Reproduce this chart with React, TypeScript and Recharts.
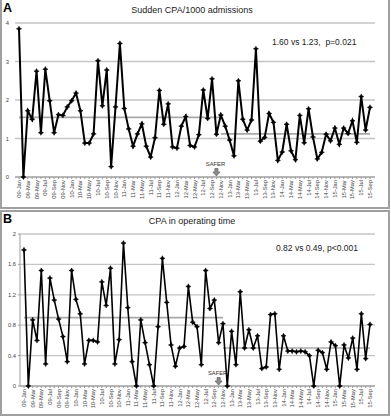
import React from "react";
import {
  LineChart,
  Line,
  XAxis,
  YAxis,
  CartesianGrid,
  ReferenceLine,
  ReferenceDot,
} from "recharts";

const YEARS = ["09", "10", "11", "12", "13", "14", "15"];
const MONTHS = ["Jan", "Feb", "Mar", "Apr", "May", "Jun", "Jul", "Aug", "Sep", "Oct", "Nov", "Dec"];
// 09-Jan .. 15-Sep, one point per month
const PERIODS = YEARS.flatMap((y) => MONTHS.map((m) => `${y}-${m}`)).slice(0, 81);

const CPA_PER_1000 = [
  3.85, 0, 1.72, 1.5, 2.75, 1.15, 2.8, 1.98, 1.15, 1.62,
  1.6, 1.82, 1.98, 2.18, 1.72, 0.88, 0.88, 1.12, 3.02, 1.85,
  2.78, 0.27, 1.82, 3.47, 1.78, 1.25, 0.8, 1.12, 1.38, 0.8,
  0.52, 1.02, 2.25, 1.37, 1.9, 0.78, 0.75, 1.32, 1.57, 0.82,
  0.78, 1.1, 2.26, 1.52, 2.55, 1.11, 1.61, 1.32, 0.96, 0.55,
  2.5, 1.5, 1.22, 1.48, 3.33, 0.93, 1.03, 1.65, 1.42, 0.43,
  0.65, 1.37, 0.68, 0.45, 1.6, 0.89, 1.77, 1.04, 0.47, 0.64,
  1.11, 0.94, 1.27, 0.85, 1.27, 1.13, 1.46, 0.9, 2.09, 1.22, 1.81,
];

const CPA_OPERATING = [
  1.79, 0, 0.87, 0.6, 1.52, 0.29, 1.42, 1.13, 0.88, 0.65,
  0.32, 1.52, 1.14, 0.95, 0.29, 0.6, 0.6, 0.58, 1.37, 1.06,
  1.55, 0.29, 0.61, 1.88, 1.03, 0.32, 0, 0.87, 0.57, 0.28,
  0, 0.78, 1.68, 1.1, 0.54, 0.26, 0.5, 0.52, 1.31, 0.84,
  0.78, 0.28, 1.52, 1.02, 1.13, 0.57, 0.82, 0, 0.72, 0.28,
  1.24, 0.5, 0.74, 0.5, 0.66, 0.23, 0.25, 0.94, 0.95, 0.22,
  0.66, 0.46, 0.46, 0.45, 0.46, 0.45, 0.4, 0, 0.47, 0.44,
  0.22, 0.58, 0.53, 0, 0.54, 0.37, 0.63, 0.22, 0.95, 0.36, 0.81,
];

const TICKS_A = [0, 1, 2, 3, 4];
const TICKS_B = [0, 0.4, 0.8, 1.2, 1.6, 2];

// mean levels as drawn (before / after SAFER)
const MEANS_A = [1.55, 1.12];
const MEANS_B = [0.9, 0.5];

const SAFER_AT = "12-Oct";
const SPLIT_AT = "12-Nov";

const dataA = PERIODS.map((p, i) => ({ period: p, value: CPA_PER_1000[i] }));
const dataB = PERIODS.map((p, i) => ({ period: p, value: CPA_OPERATING[i] }));

const FONT = "'Liberation Sans', Arial, sans-serif";
const GRID = "#c4c4c4";

function MonthTick(props: any) {
  const { x, y, index, payload } = props;
  if (index % 2 !== 0) return null;
  return (
    <text
      x={x}
      y={y}
      transform={`rotate(-90, ${x}, ${y})`}
      textAnchor="end"
      dominantBaseline="central"
      fontSize={5.8}
      fill="#444"
      fontFamily={FONT}
    >
      {payload.value}
    </text>
  );
}

function StarDot(props: any) {
  const { cx, cy, index } = props;
  if (cx == null || cy == null) return null;
  const r = 2.6;
  const k = 0.9;
  return (
    <path
      key={`dot-${index}`}
      d={`M${cx},${cy - r} L${cx + k},${cy - k} L${cx + r},${cy} L${cx + k},${cy + k} L${cx},${cy + r} L${cx - k},${cy + k} L${cx - r},${cy} L${cx - k},${cy - k} Z`}
      fill="#000"
      stroke="#000"
      strokeWidth={0.5}
    />
  );
}

function SaferMark(props: any) {
  const { cx, cy } = props;
  return (
    <g>
      <text
        x={cx - 1}
        y={cy - 11}
        textAnchor="middle"
        fontSize={5.8}
        fill="#333"
        fontFamily={FONT}
      >
        SAFER
      </text>
      <path
        d={`M${cx - 1.6},${cy - 8.5} L${cx + 1.6},${cy - 8.5} L${cx + 1.6},${cy - 5} L${cx + 3.6},${cy - 5} L${cx},${cy - 1} L${cx - 3.6},${cy - 5} L${cx - 1.6},${cy - 5} Z`}
        fill="#8a8a8a"
        stroke="#555"
        strokeWidth={0.6}
      />
    </g>
  );
}

function Panel(props: {
  data: { period: string; value: number }[];
  ticks: number[];
  means: number[];
  yWidth: number;
  lineWidth: number;
  showYLine: boolean;
  height: number;
}) {
  const { data, ticks, means, yWidth, lineWidth, showYLine, height } = props;
  const top = ticks[ticks.length - 1];
  return (
    <LineChart
      width={390}
      height={height}
      data={data}
      margin={{ top: 23, right: 15, bottom: 0, left: 0 }}
    >
      <CartesianGrid horizontal vertical={false} stroke={GRID} strokeWidth={1.3} />
      <XAxis
        dataKey="period"
        interval={0}
        height={30}
        padding={{ left: 4, right: 5 }}
        tick={<MonthTick />}
        tickSize={2}
        tickMargin={1}
        stroke="#9a9a9a"
        tickLine={{ stroke: "#9a9a9a" }}
      />
      <YAxis
        domain={[0, top]}
        ticks={ticks}
        width={yWidth}
        axisLine={showYLine ? { stroke: "#9a9a9a" } : false}
        tickLine={showYLine ? { stroke: "#9a9a9a" } : false}
        tickSize={2}
        tickMargin={showYLine ? 2 : 4}
        tick={{ fontSize: 5.8, fill: "#444", fontFamily: FONT }}
      />
      <ReferenceLine
        segment={[
          { x: PERIODS[0], y: means[0] },
          { x: SPLIT_AT, y: means[0] },
        ]}
        stroke="#a8a8a8"
        strokeWidth={1.6}
      />
      <ReferenceLine
        segment={[
          { x: SPLIT_AT, y: means[1] },
          { x: PERIODS[PERIODS.length - 1], y: means[1] },
        ]}
        stroke="#a8a8a8"
        strokeWidth={1.6}
      />
      <Line
        type="linear"
        dataKey="value"
        stroke="#000"
        strokeWidth={lineWidth}
        dot={<StarDot />}
        activeDot={false}
        isAnimationActive={false}
      />
      <ReferenceDot
        x={SAFER_AT}
        y={0}
        r={0}
        shape={(p: any) => <SaferMark {...p} />}
      />
    </LineChart>
  );
}

export default function App() {
  return (
    <div
      style={{
        position: "absolute",
        left: 0,
        top: 0,
        width: 391,
        height: 417,
        background: "#fff",
        fontFamily: FONT,
        overflow: "hidden",
      }}
    >
      {/* panel frames */}
      <div
        style={{
          position: "absolute",
          left: 0,
          top: -2,
          width: 390,
          height: 211,
          boxSizing: "border-box",
          border: "2px solid #a0a0a0",
        }}
      />
      <div
        style={{
          position: "absolute",
          left: 0,
          top: 210,
          width: 390,
          height: 206,
          boxSizing: "border-box",
          border: "2px solid #a0a0a0",
        }}
      />

      {/* panel A */}
      <div style={{ position: "absolute", left: 0, top: 0 }}>
        <Panel
          data={dataA}
          ticks={TICKS_A}
          means={MEANS_A}
          yWidth={15}
          lineWidth={2}
          showYLine={false}
          height={207}
        />
      </div>
      <div style={{ position: "absolute", left: 3, top: 1, fontSize: 12.5, fontWeight: 700, lineHeight: "14px" }}>A</div>
      <div
        style={{
          position: "absolute",
          left: 92,
          width: 200,
          top: 5,
          textAlign: "center",
          fontSize: 9,
          lineHeight: "11px",
          color: "#222",
        }}
      >
        Sudden CPA/1000 admissions
      </div>
      <div style={{ position: "absolute", left: 272, top: 37, fontSize: 8.5, lineHeight: "11px", color: "#222", whiteSpace: "pre" }}>
        {"1.60 vs 1.23,  p=0.021"}
      </div>

      {/* panel B */}
      <div style={{ position: "absolute", left: 0, top: 211 }}>
        <Panel
          data={dataB}
          ticks={TICKS_B}
          means={MEANS_B}
          yWidth={20}
          lineWidth={1.6}
          showYLine={true}
          height={205}
        />
      </div>
      <div style={{ position: "absolute", left: 3, top: 212, fontSize: 12.5, fontWeight: 700, lineHeight: "14px" }}>B</div>
      <div
        style={{
          position: "absolute",
          left: 92,
          width: 200,
          top: 216,
          textAlign: "center",
          fontSize: 9,
          lineHeight: "11px",
          color: "#222",
        }}
      >
        CPA in operating time
      </div>
      <div style={{ position: "absolute", left: 276, top: 243, fontSize: 8.5, lineHeight: "11px", color: "#222", whiteSpace: "pre" }}>
        {"0.82 vs 0.49, p<0.001"}
      </div>
    </div>
  );
}
